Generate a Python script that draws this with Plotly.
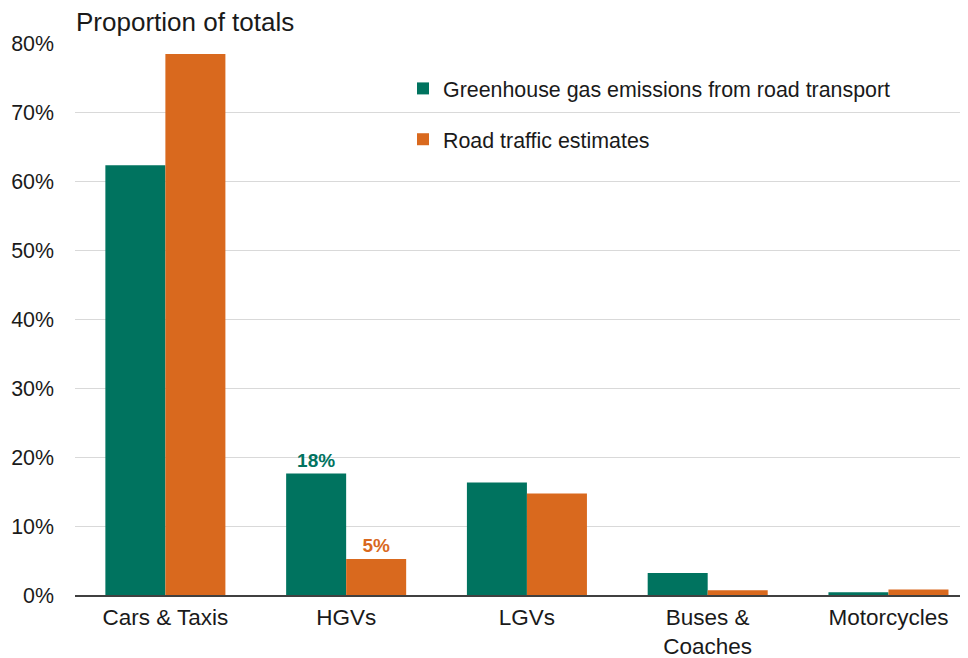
import plotly.graph_objects as go

categories = ["Cars & Taxis", "HGVs", "LGVs", "Buses &<br>Coaches", "Motorcycles"]
ghg_emissions = [0.623, 0.176, 0.163, 0.032, 0.004]
road_traffic = [0.784, 0.052, 0.147, 0.007, 0.008]
ghg_labels = ["", "18%", "", "", ""]
traffic_labels = ["", "5%", "", "", ""]
tick_vals = [0, 0.1, 0.2, 0.3, 0.4, 0.5, 0.6, 0.7, 0.8]
tick_text = ["0%", "10%", "20%", "30%", "40%", "50%", "60%", "70%", "80%"]

GREEN = "#00735f"
ORANGE = "#d9691e"
FONT = "Liberation Sans, Arial, sans-serif"
TXT = "#1a1a1a"

fig = go.Figure()
fig.add_trace(go.Bar(
    x=categories, y=ghg_emissions, name="Greenhouse gas emissions from road transport",
    marker=dict(color=GREEN, line=dict(width=0)),
    text=ghg_labels, textposition="outside", cliponaxis=False,
    textfont=dict(family=FONT, size=19, color=GREEN, weight="bold"),
    legendgroup="a", hoverinfo="x+y",
))
fig.add_trace(go.Bar(
    x=categories, y=road_traffic, name="Road traffic estimates",
    marker=dict(color=ORANGE, line=dict(width=0)),
    text=traffic_labels, textposition="outside", cliponaxis=False,
    textfont=dict(family=FONT, size=19, color=ORANGE, weight="bold"),
    legendgroup="b", hoverinfo="x+y",
))

fig.update_layout(
    width=960, height=650,
    margin=dict(l=67, r=0, t=35, b=63),
    paper_bgcolor="white", plot_bgcolor="white",
    barmode="group", bargap=0.336, bargroupgap=0,
    font=dict(family=FONT, size=21, color=TXT),
    showlegend=True,
    legend=dict(
        x=328 / 893, xanchor="left",
        y=1 - 25 / 552, yanchor="top",
        tracegroupgap=20, font=dict(size=21.4, color=TXT),
        bgcolor="rgba(0,0,0,0)",
    ),
    xaxis=dict(
        range=[-0.5, 4.44],
        showgrid=False, showline=True, linecolor="#404040", linewidth=1.5,
        ticks="", tickfont=dict(size=22.5, color=TXT), automargin=False,
        ticklabelstandoff=1,
    ),
    yaxis=dict(
        range=[0, 0.8], tickvals=tick_vals, ticktext=tick_text,
        showgrid=True, gridcolor="#d9d9d9", gridwidth=1,
        zeroline=False, showline=False, ticks="", ticklen=0,
        tickfont=dict(size=21.4, color=TXT), automargin=False,
        ticklabelstandoff=20,
    ),
    annotations=[dict(
        text="Proportion of totals", xref="paper", yref="paper",
        x=-1 / 893, y=1 + 21 / 552, xanchor="left", yanchor="middle",
        showarrow=False, font=dict(size=26, color=TXT),
    )],
)

fig.write_html("out.html")
